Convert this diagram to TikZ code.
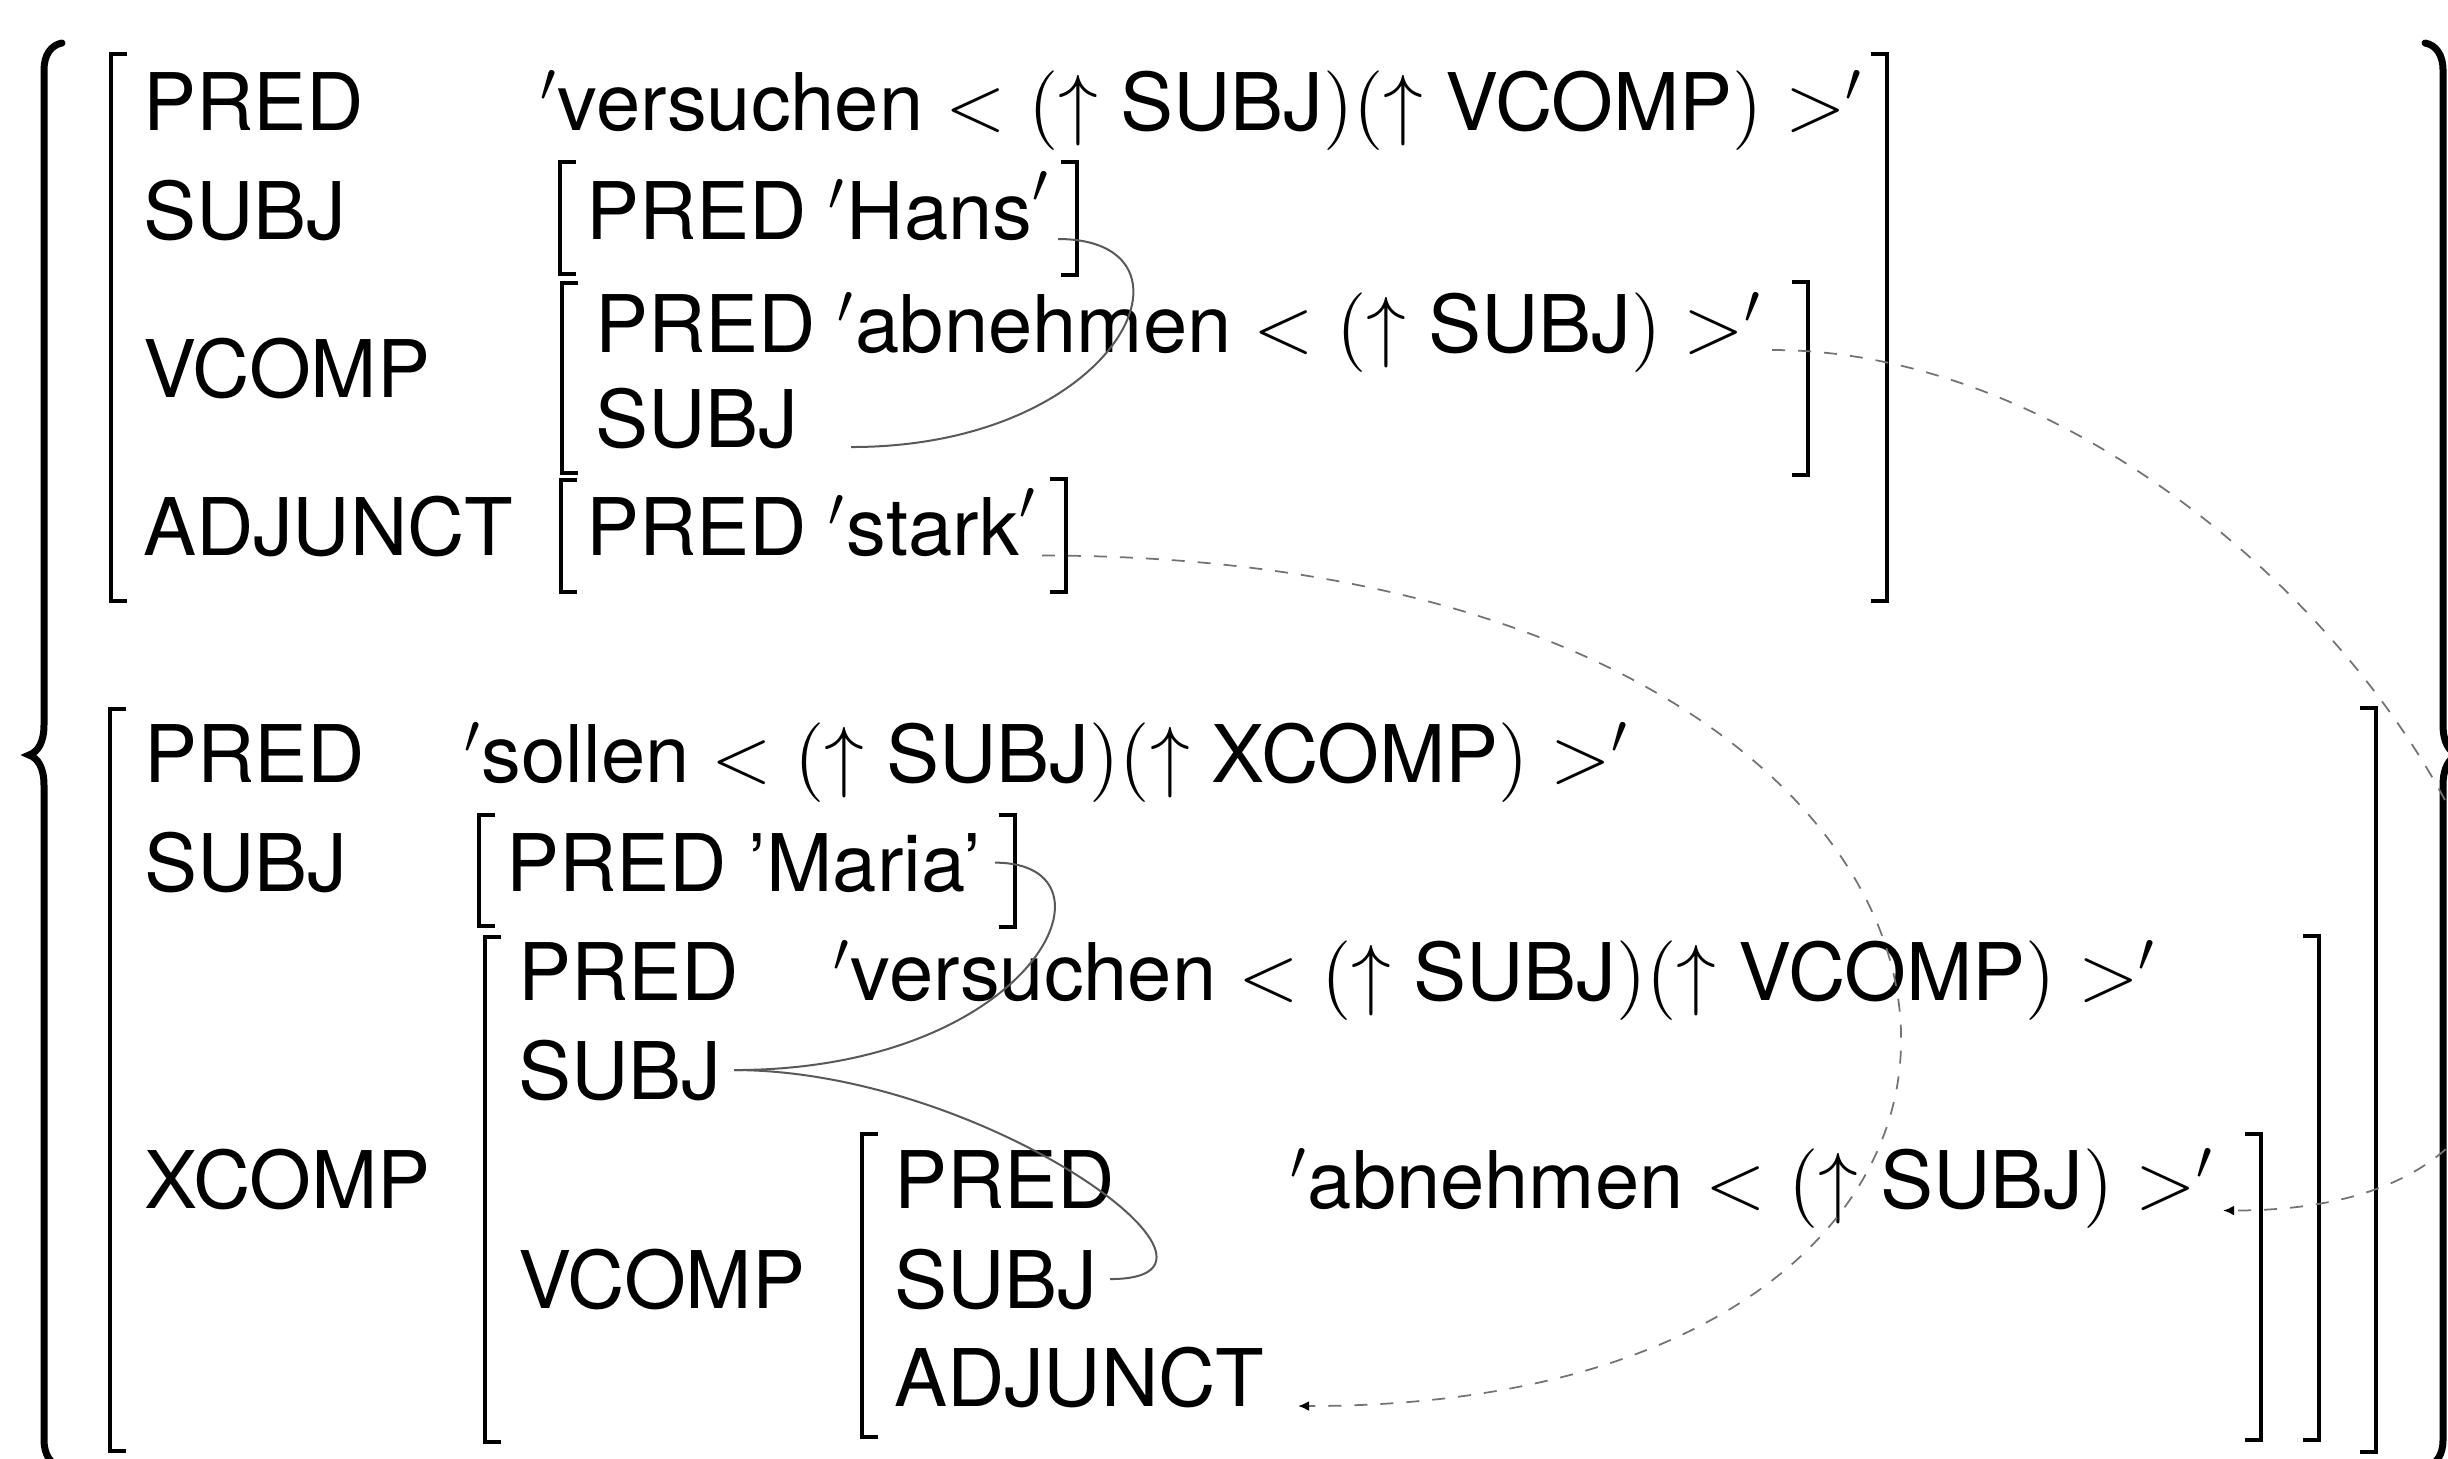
\RequirePackage{fix-cm}
\documentclass[tikz,border=0pt]{standalone}
\usepackage{amsmath}
\usepackage[no-math]{fontspec}
\setmainfont{TeX Gyre Heros}
\usetikzlibrary{calc,arrows.meta}
\newcommand\tx[1]{\text{#1}}
\newcommand\avmL[3]{\draw[brk] (#1+16,#2) -- (#1,#2) -- (#1,#3) -- (#1+16,#3);}
\newcommand\avmR[3]{\draw[brk] (#1-16,#2) -- (#1,#2) -- (#1,#3) -- (#1-16,#3);}
\begin{document}
\begin{tikzpicture}[x=0.2pt,y=-0.2pt,
  avm/.style={anchor=base west,inner sep=0pt,outer sep=0pt,font=\fontsize{15.9}{19}\selectfont},
  brk/.style={line width=0.9pt,line join=miter,line cap=butt},
  brc/.style={line width=1.4pt,line cap=round},
  solidlink/.style={draw=black!65,line width=0.4pt},
  dashlink/.style={draw=black!55,line width=0.35pt,dash pattern=on 2.6pt off 2.6pt,
    -{Latex[length=2.2pt,width=2pt,color=black]}}]
\useasboundingbox (0,0) rectangle (2448,1458);
\clip (0,0) rectangle (2448,1458);

% ---------- upper f-structure ----------
\node[avm] (a1) at (143,130.5) {PRED};
\node[avm] (v1) at (540,130.5) {$'\tx{versuchen} < (\uparrow \tx{SUBJ})(\uparrow \tx{VCOMP}) >'$};
\node[avm] (a2) at (143,239) {SUBJ};
\node[avm] (hans) at (586,239) {PRED $'\tx{Hans}'$};
\node[avm] (a3) at (143,397) {VCOMP};
\node[avm] (abn1) at (595,352) {PRED $'\tx{abnehmen} < (\uparrow \tx{SUBJ}) >'$};
\node[avm] (subj1) at (595,447) {SUBJ};
\node[avm] (a4) at (143,555.5) {ADJUNCT};
\node[avm] (stark) at (586,555.5) {PRED $'\tx{stark}'$};

% ---------- lower f-structure ----------
\node[avm] (b1) at (144,782) {PRED};
\node[avm] (bv1) at (464,782) {$'\tx{sollen} < (\uparrow \tx{SUBJ})(\uparrow \tx{XCOMP}) >'$};
\node[avm] (b2) at (144,891) {SUBJ};
\node[avm] (maria) at (506,891) {PRED ’Maria’};
\node[avm] (b3) at (144,1208.5) {XCOMP};
\node[avm] (c1) at (518,1000) {PRED};
\node[avm] (cv1) at (833,1000) {$'\tx{versuchen} < (\uparrow \tx{SUBJ})(\uparrow \tx{VCOMP}) >'$};
\node[avm] (c2) at (518,1099) {SUBJ};
\node[avm] (c3) at (518,1308) {VCOMP};
\node[avm] (d1) at (894,1208.5) {PRED};
\node[avm] (dv1) at (1290,1208.5) {$'\tx{abnehmen} < (\uparrow \tx{SUBJ}) >'$};
\node[avm] (d2) at (894,1308) {SUBJ};
\node[avm] (d3) at (894,1406) {ADJUNCT};

% ---------- brackets ----------
\avmL{111}{54}{601} \avmR{1887}{54}{601}
\avmL{560}{162}{274} \avmR{1077}{162}{275}
\avmL{562}{283}{473} \avmR{1808}{282}{475}
\avmL{561}{480}{592} \avmR{1066}{479}{592}
\avmL{110}{709}{1451} \avmR{2376}{708}{1452}
\avmL{479}{815}{926} \avmR{1015}{815}{927}
\avmL{485}{937}{1442} \avmR{2319}{936}{1440}
\avmL{862}{1134}{1437} \avmR{2261}{1134}{1440}

% ---------- braces ----------
\draw[brc] (62,43) .. controls (51,45) and (44,55) .. (44,70) -- (44,725)
  .. controls (44,742) and (38,752) .. (29,755) .. controls (38,758) and (44,768) .. (44,785)
  -- (44,1440) .. controls (44,1455) and (51,1465) .. (62,1467);
\draw[brc] (2425,43) .. controls (2436,45) and (2443,55) .. (2443,70) -- (2443,725)
  .. controls (2443,742) and (2449,752) .. (2458,755) .. controls (2449,758) and (2443,768) .. (2443,785)
  -- (2443,1440) .. controls (2443,1455) and (2436,1465) .. (2425,1467);

% ---------- structure sharing ----------
\draw[solidlink] ($(hans.base east)+(8,0)$) .. controls +(155,0) and +(270,0) .. ($(subj1.base east)+(53,0)$);
\draw[solidlink] ($(maria.east)+(14,0)$) .. controls +(135,0) and +(300,0) .. ($(c2.east)+(13,0)$);
\draw[solidlink] ($(c2.east)+(13,0)$) .. controls +(250,0) and +(160,0) .. ($(d2.east)+(13,0)$);

\draw[dashlink] ($(abn1.base east)+(10,-2)$) .. controls +(540,0) and +(620,0) .. ($(dv1.base east)+(9,2)$);
\draw[dashlink] ($(stark.base east)+(5,0)$) .. controls +(1050,0) and +(880,0) .. ($(d3.base east)+(34,0)$);
\end{tikzpicture}
\end{document}
